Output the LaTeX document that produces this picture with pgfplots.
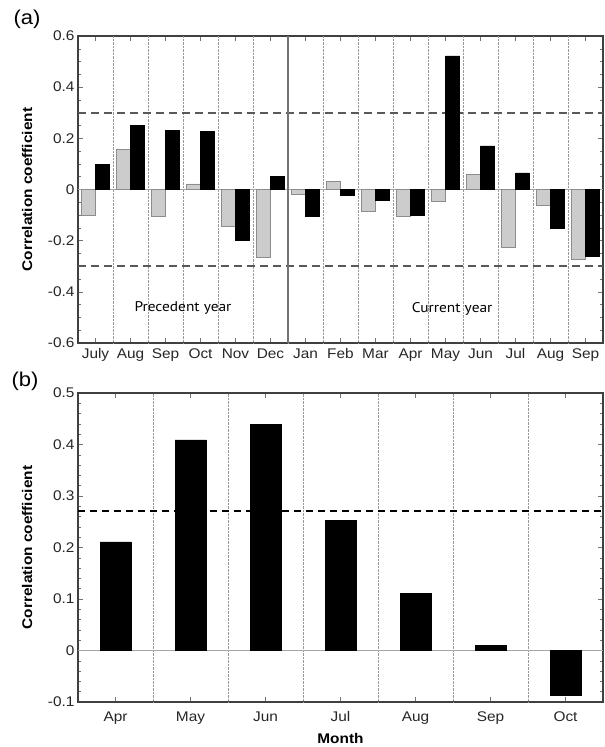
\documentclass[border=0pt]{standalone}
\usepackage{pgfplots}
\pgfplotsset{compat=1.18}
\usepackage{fontspec}
\setmainfont{Liberation Sans}[FakeStretch=1.1]
\newfontfamily\annot{PT Sans}[FakeStretch=1.1]

\pgfplotstableread{
x grey black
0 -0.100 0.097
1 0.158 0.250
2 -0.106 0.232
3 0.022 0.227
4 -0.143 -0.197
5 -0.266 0.052
6 -0.017 -0.106
7 0.032 -0.021
8 -0.086 -0.043
9 -0.106 -0.101
10 -0.045 0.522
11 0.058 0.171
12 -0.225 0.065
13 -0.060 -0.152
14 -0.273 -0.260
}\tableA

\pgfplotstableread{
x val
0 0.211
1 0.409
2 0.439
3 0.253
4 0.111
5 0.010
6 -0.086
}\tableB

\pgfplotsset{
  every tick label/.append style={font=\fontsize{14}{16}\selectfont, text=black!85},
  myaxis/.style={
    scale only axis,
    width=525pt,
    axis line style={line width=1.3pt, black!75},
    tick align=inside,
    major tick length=5pt,
    minor tick length=3pt,
    every tick/.style={black!55, line width=0.5pt},
    xmajorgrids=false,
    ylabel={\bfseries Correlation coefficient},
    ylabel style={at={(axis description cs:-0.0971,0.5)}, anchor=center, font=\fontsize{14}{16}\selectfont},
    extra x tick style={grid=major, major tick length=0pt, major grid style={black!40, densely dotted, line width=0.5pt}},
    clip=false,
  },
}

\begin{document}
\begin{tikzpicture}
\useasboundingbox (0pt,0pt) rectangle (605pt,-747pt);

\node[font=\fontsize{20}{22}\selectfont] at (27pt,-19pt) {(a)};
\node[font=\fontsize{20}{22}\selectfont] at (25pt,-381pt) {(b)};

\begin{axis}[myaxis,
  at={(78pt,-343pt)}, anchor=south west,
  height=307pt,
  xmin=-0.5, xmax=14.5, ymin=-0.6, ymax=0.6,
  xtick={0,...,14},
  xticklabels={July,Aug,Sep,Oct,Nov,Dec,Jan,Feb,Mar,Apr,May,Jun,Jul,Aug,Sep},
  extra x ticks={0.5,1.5,...,13.5},
  extra x tick labels={},
  ytick={-0.6,-0.4,-0.2,0,0.2,0.4,0.6},
  yticklabels={-0.6,-0.4,-0.2,0,0.2,0.4,0.6},
  minor y tick num=3,
  xticklabel style={yshift=-2pt},
]
\addplot[black!35, line width=0.6pt, forget plot] coordinates {(-0.5,0) (14.5,0)};
\addplot[black!65, line width=1.6pt, dash pattern=on 8pt off 5pt, forget plot] coordinates {(-0.5,0.3) (14.5,0.3)};
\addplot[black!65, line width=1.6pt, dash pattern=on 8pt off 5pt, forget plot] coordinates {(-0.5,-0.3) (14.5,-0.3)};
\addplot[black!55, line width=1.6pt, forget plot] coordinates {(5.5,-0.6) (5.5,0.6)};
\addplot[ybar, bar width=14pt, bar shift=-7pt, fill=black!20, draw=black!45, line width=0.5pt] table[x=x, y=grey] {\tableA};
\addplot[ybar, bar width=14pt, bar shift=7pt, fill=black, draw=black, line width=0.5pt] table[x=x, y=black] {\tableA};
\node[font=\annot\fontsize{14}{16}\selectfont] at (axis cs:2.5,-0.465) {Precedent year};
\node[font=\annot\fontsize{14}{16}\selectfont] at (axis cs:10.19,-0.465) {Current year};
\end{axis}

\begin{axis}[myaxis,
  at={(78pt,-702pt)}, anchor=south west,
  height=309pt,
  xmin=-0.5, xmax=6.5, ymin=-0.1, ymax=0.5,
  xtick={0,...,6},
  xticklabels={Apr,May,Jun,Jul,Aug,Sep,Oct},
  extra x ticks={0.5,1.5,...,5.5},
  extra x tick labels={},
  ytick={-0.1,0,0.1,0.2,0.3,0.4,0.5},
  yticklabels={-0.1,0,0.1,0.2,0.3,0.4,0.5},
  minor y tick num=4,
  xticklabel style={yshift=-6pt},
  xlabel={\bfseries Month},
  xlabel style={font=\fontsize{14}{16}\selectfont, yshift=-2pt},
]
\addplot[black!35, line width=0.6pt, forget plot] coordinates {(-0.5,0) (6.5,0)};
\addplot[black, line width=1.3pt, dash pattern=on 7pt off 5pt, forget plot] coordinates {(-0.5,0.271) (6.5,0.271)};
\addplot[ybar, bar width=31pt, bar shift=0pt, fill=black, draw=black, line width=0.5pt] table[x=x, y=val] {\tableB};
\end{axis}
\end{tikzpicture}
\end{document}
